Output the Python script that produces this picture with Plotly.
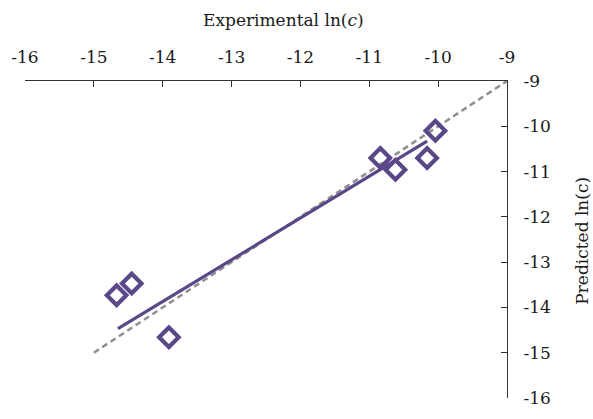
import plotly.graph_objects as go

# Data
exp_ln_c = [-14.67, -14.45, -13.91, -10.84, -10.62, -10.16, -10.04]
pred_ln_c = [-13.73, -13.47, -14.66, -10.70, -10.96, -10.70, -10.10]

# Trendline end points (as drawn in the reference)
trend_x = [-14.65, -10.16]
trend_y = [-14.47, -10.33]

# Identity (y = x) reference line
ident_x = [-15, -9]
ident_y = [-15, -9]

tick_vals = [-16, -15, -14, -13, -12, -11, -10, -9]
tick_text = ["-16", "-15", "-14", "-13", "-12", "-11", "-10", "-9"]

purple = "#594787"
font_family = "DejaVu Serif"

fig = go.Figure()

fig.add_trace(go.Scatter(
    x=ident_x, y=ident_y, mode="lines",
    line=dict(color="#8f8f8f", width=2.5, dash="6px,4px"),
    hoverinfo="skip", showlegend=False))

fig.add_trace(go.Scatter(
    x=trend_x, y=trend_y, mode="lines",
    line=dict(color=purple, width=3.2),
    showlegend=False))

fig.add_trace(go.Scatter(
    x=exp_ln_c, y=pred_ln_c, mode="markers",
    marker=dict(symbol="diamond-open", size=15, color=purple,
                line=dict(color=purple, width=4.2)),
    showlegend=False))

W, H = 593, 419
left, right, top, bottom = 25, 506.7, 80.7, 407.5
pw, ph = right - left, bottom - top

fig.update_layout(
    width=W, height=H,
    margin=dict(l=left, r=W - right, t=top, b=H - bottom, pad=0),
    paper_bgcolor="white", plot_bgcolor="white",
    font=dict(family=font_family, size=17, color="#1a1a1a"),
    xaxis=dict(
        side="top", range=[-16, -9], tickvals=tick_vals, ticktext=tick_text,
        ticks="inside", ticklen=6, tickwidth=1.3, tickcolor="#333333",
        showline=True, linecolor="#333333", linewidth=1.3,
        showgrid=False, zeroline=False, ticklabelstandoff=10,
    ),
    yaxis=dict(
        side="right", range=[-16, -9], tickvals=tick_vals, ticktext=tick_text,
        ticks="inside", ticklen=6, tickwidth=1.3, tickcolor="#333333",
        showline=True, linecolor="#333333", linewidth=1.3,
        showgrid=False, zeroline=False, ticklabelstandoff=12,
    ),
    annotations=[
        dict(text="Experimental ln(<i>c</i>)", xref="paper", yref="paper",
             x=(283 - left) / pw, y=(bottom - 18) / ph,
             xanchor="center", yanchor="middle", showarrow=False,
             font=dict(family=font_family, size=17, color="#1a1a1a")),
        dict(text="Predicted ln(c)", xref="paper", yref="paper",
             x=(582 - left) / pw, y=(bottom - 245) / ph,
             xanchor="center", yanchor="middle", showarrow=False, textangle=-90,
             font=dict(family=font_family, size=17, color="#1a1a1a")),
    ],
)

fig.write_html("out.html")
